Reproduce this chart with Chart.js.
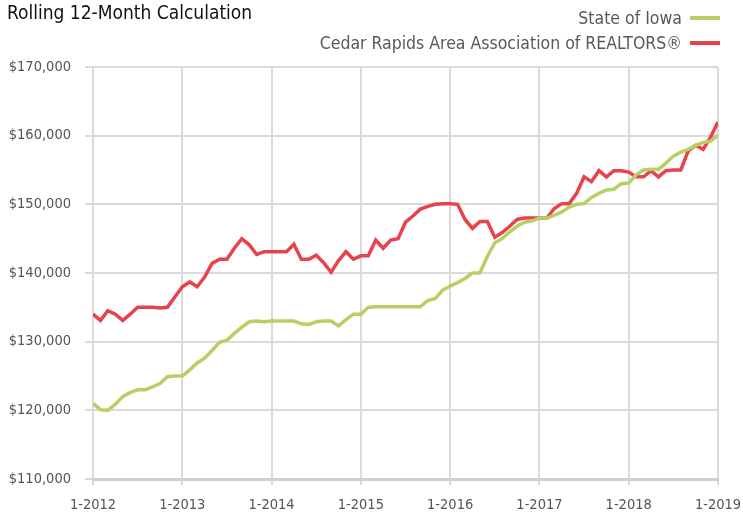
<!DOCTYPE html>
<html>
<head>
<meta charset="utf-8">
<script src="https://cdn.jsdelivr.net/npm/chart.js@4.4.0/dist/chart.umd.min.js"></script>
<style>
  body { margin: 0; background: #fff; }
  #wrap { position: relative; width: 743px; height: 515px; }
  .txt { position: absolute; font-family: "Liberation Sans Narrow", "DejaVu Sans Condensed", sans-serif; white-space: nowrap; }
  #title { left: 7px; top: 1px; font-size: 19px; color: #111; }
  .leg { right: 23px; font-size: 17.5px; color: #595959; display: flex; align-items: center; }
  .leg span.sw { display: inline-block; width: 30px; height: 4px; margin-left: 8px; }
</style>
</head>
<body>
<div id="wrap">
  <canvas id="chart" width="743" height="515"></canvas>
  <div id="title" class="txt">Rolling 12-Month Calculation</div>
  <div class="txt leg" style="top:8px">State of Iowa<span class="sw" style="background:#b8d063"></span></div>
  <div class="txt leg" style="top:33px">Cedar Rapids Area Association of REALTORS®<span class="sw" style="background:#e8434d"></span></div>
</div>
<script>
// months from 1-2012 to 1-2019
const startYear = 2012;
const yTicks = [110000, 120000, 130000, 140000, 150000, 160000, 170000];

const stateOfIowa = [
  121000, 120100, 120000, 120900, 122000, 122600, 123000, 123000, 123400, 123900, 124900, 125000,
  125000, 125900, 126900, 127600, 128700, 129900, 130200, 131200, 132100, 132900, 133000, 132900,
  133000, 133000, 133000, 133000, 132600, 132500, 132900, 133000, 133000, 132300, 133200, 134000,
  134000, 135000, 135100, 135100, 135100, 135100, 135100, 135100, 135100, 136000, 136300, 137500,
  138100, 138600, 139200, 140000, 140000, 142400, 144400, 145000, 146000, 146800, 147400, 147600,
  148000, 148000, 148400, 148900, 149600, 150000, 150100, 151000, 151600, 152100, 152200, 153000,
  153100, 154300, 155000, 155100, 155100, 156000, 157000, 157600, 158000, 158600, 159000, 159200,
  160100
];

const cedarRapids = [
  134000, 133100, 134500, 134000, 133100, 134000, 135000, 135000, 135000, 134900, 135000, 136500,
  138000, 138700, 138000, 139400, 141400, 142000, 142000, 143600, 145000, 144100, 142700, 143100,
  143100, 143100, 143100, 144200, 142000, 142000, 142600, 141500, 140100, 141800, 143100, 142000,
  142500, 142500, 144800, 143600, 144800, 145000, 147400, 148300, 149300, 149700, 150000, 150100,
  150100, 150000, 147800, 146500, 147500, 147500, 145200, 145900, 146800, 147800, 148000, 148000,
  148000, 148000, 149400, 150100, 150100, 151600, 154000, 153300, 154900, 154000, 154900, 154900,
  154700, 154000, 154000, 154900, 154000, 154900, 155000, 155000, 157800, 158600, 158000, 159800,
  162000
];

const toPoints = arr => arr.map((v, i) => ({ x: i, y: v }));
const grid = '#dadada';
const tickFont = { family: '"Liberation Sans Narrow", "DejaVu Sans Condensed", sans-serif', size: 14.5 };

new Chart(document.getElementById('chart'), {
  type: 'line',
  data: {
    datasets: [
      { label: 'State of Iowa', data: toPoints(stateOfIowa), borderColor: '#b8d063', borderWidth: 3.5, pointRadius: 0, tension: 0 },
      { label: 'Cedar Rapids Area Association of REALTORS®', data: toPoints(cedarRapids), borderColor: '#e8434d', borderWidth: 3.5, pointRadius: 0, tension: 0 }
    ]
  },
  options: {
    responsive: false,
    animation: false,
    layout: { padding: { top: 67, right: 25, left: 0, bottom: 0 } },
    plugins: { legend: { display: false }, tooltip: { enabled: false } },
    scales: {
      x: {
        type: 'linear',
        min: 0,
        max: (stateOfIowa.length - 1),
        afterFit: s => { s.height = 36; s.paddingLeft = 0; s.paddingRight = 0; },
        afterBuildTicks: s => { s.ticks = Array.from({ length: 8 }, (_, k) => ({ value: k * 12 })); },
        ticks: {
          color: '#555', font: tickFont, padding: 12, maxRotation: 0,
          callback: v => '1-' + (startYear + v / 12)
        },
        grid: { color: grid, lineWidth: 2, tickLength: 6 },
        border: { color: '#cfcfcf', width: 3 }
      },
      y: {
        min: yTicks[0],
        max: yTicks[yTicks.length - 1],
        afterFit: s => { s.width = 93; },
        afterBuildTicks: s => { s.ticks = yTicks.map(v => ({ value: v })); },
        ticks: {
          color: '#555', font: tickFont, padding: 14,
          callback: v => '$' + v.toLocaleString('en-US')
        },
        grid: { color: grid, lineWidth: 2, tickLength: 8 },
        border: { display: false }
      }
    }
  }
});
</script>
</body>
</html>
